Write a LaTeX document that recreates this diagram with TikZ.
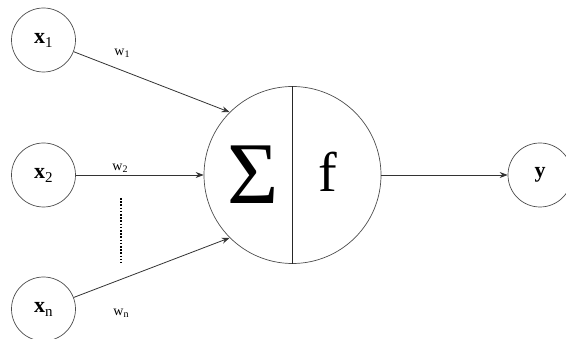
\documentclass[tikz,border=0pt]{standalone}
\usepackage{fontspec}
\setmainfont{Liberation Serif}
\usetikzlibrary{arrows.meta}
\newcommand{\xlab}[1]{{\fontsize{22}{22}\selectfont\bfseries x}\raisebox{-4pt}{\fontsize{15}{15}\selectfont #1}}
\begin{document}
\begin{tikzpicture}[x=1pt,y=-1pt,
  inp/.style={circle,draw=black!70,line width=0.7pt,minimum size=64pt,inner sep=0pt},
  conn/.style={draw=black!80,line width=0.8pt,-{Stealth[length=8pt,width=6pt]}},
  wlab/.style={inner sep=0pt,font=\fontsize{14}{14}\selectfont}]
\useasboundingbox (0,0) rectangle (566,339);
\clip (0,0) rectangle (566,339);
\node[inp] (x1) at (43.5,40) {\xlab{1}};
\node[inp] (x2) at (43.5,175) {\xlab{2}};
\node[inp] (xn) at (43.5,309) {\xlab{n}};
\node[circle,draw=black!70,line width=0.7pt,minimum size=177pt,inner sep=0pt] (sum) at (292.5,175) {};
\draw[draw=black!85,line width=0.7pt] (sum.north) -- (sum.south);
\node[inner sep=0pt,font=\fontsize{88}{88}\selectfont] (sig) at (253,175) {Σ};
\node[inner sep=0pt,font=\fontsize{56}{56}\selectfont] (f) at (328,172) {f};
\node[inp] (y) at (540,175) {{\fontsize{22}{22}\selectfont\bfseries y}};
\draw[conn] (x1) -- (sum.135);
\draw[conn] (x2) -- (sum);
\draw[conn] (xn) -- (sum.225);
\draw[conn] (sum) -- (y);
\node[wlab] (w1) at (122,53) {w\raisebox{-2pt}{\fontsize{10}{10}\selectfont 1}};
\node[wlab] (w2) at (120,168) {w\raisebox{-2pt}{\fontsize{10}{10}\selectfont 2}};
\node[wlab] (wn) at (121,313) {w\raisebox{-2pt}{\fontsize{10}{10}\selectfont n}};
\coordinate (d1) at (121,198);
\coordinate (d2) at (121,263);
\draw[black,line width=2.2pt,dash pattern=on 1.6pt off 1.6pt] (d1) -- (d2);
\end{tikzpicture}
\end{document}
